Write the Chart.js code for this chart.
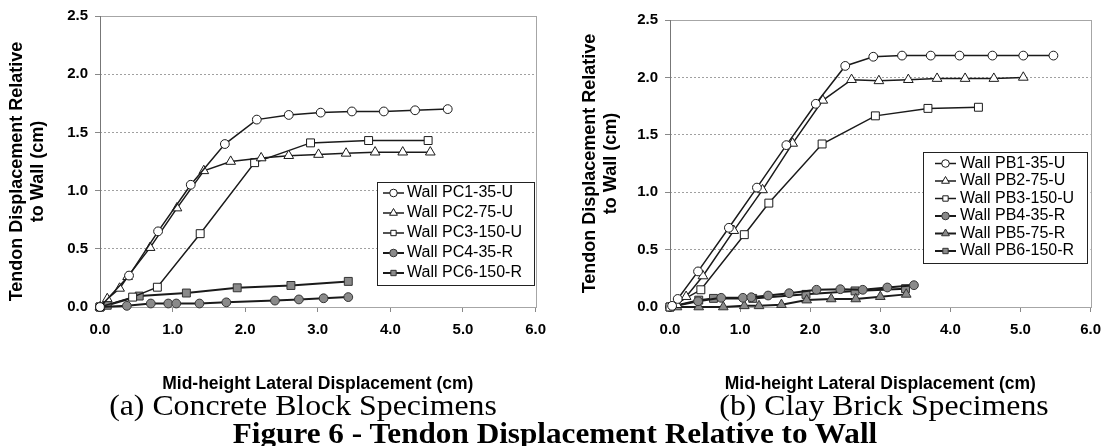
<!DOCTYPE html>
<html>
<head>
<meta charset="utf-8">
<script src="https://cdn.jsdelivr.net/npm/chart.js@4.4.1/dist/chart.umd.min.js"></script>
<style>
  body { margin: 0; width: 1110px; height: 446px; background: #fff; position: relative; overflow: hidden; }
  .panel { position: absolute; top: 0; width: 555px; height: 395px; }
  .cap { position: absolute; font-family: 'Liberation Serif', 'Times New Roman', serif; color: #000; white-space: nowrap; line-height: 1; }
</style>
</head>
<body>
<div class="panel" style="left:0"><canvas id="chartA" width="555" height="395"></canvas></div>
<div class="panel" style="left:555px"><canvas id="chartB" width="555" height="395"></canvas></div>
<div class="cap" style="left:303px; top:390px; font-size:30px; transform:translateX(-50%) scaleX(1.06);">(a) Concrete Block Specimens</div>
<div class="cap" style="left:884px; top:390px; font-size:30px; transform:translateX(-50%) scaleX(1.06);">(b) Clay Brick Specimens</div>
<div class="cap" style="left:555px; top:418px; font-size:30px; font-weight:bold; transform:translateX(-50%) scaleX(1.04);">Figure 6 - Tendon Displacement Relative to Wall</div>
<script>
// axis ticks (shared by both panels)
const xTicks = [0, 1, 2, 3, 4, 5, 6];
const yTicks = [0, 0.5, 1.0, 1.5, 2.0, 2.5];

// (a) concrete block walls
const concreteLabels = ['Wall PC1-35-U', 'Wall PC2-75-U', 'Wall PC3-150-U', 'Wall PC4-35-R', 'Wall PC6-150-R'];
const pc1X = [0, 0.40, 0.80, 1.25, 1.72, 2.16, 2.60, 3.04, 3.47, 3.91, 4.34, 4.79];
const pc1Y = [0, 0.27, 0.65, 1.05, 1.40, 1.61, 1.65, 1.67, 1.68, 1.68, 1.69, 1.70];
const pc2X = [0, 0.10, 0.27, 0.38, 0.69, 1.06, 1.43, 1.80, 2.22, 2.60, 3.01, 3.39, 3.79, 4.17, 4.55];
const pc2Y = [0, 0.07, 0.16, 0.26, 0.51, 0.85, 1.17, 1.25, 1.28, 1.30, 1.31, 1.32, 1.33, 1.33, 1.33];
const pc3X = [0, 0.45, 0.79, 1.38, 2.13, 2.90, 3.70, 4.52];
const pc3Y = [0, 0.085, 0.17, 0.63, 1.24, 1.41, 1.43, 1.43];
const pc4X = [0, 0.37, 0.70, 0.94, 1.05, 1.37, 1.74, 2.41, 2.74, 3.08, 3.42];
const pc4Y = [0, 0.01, 0.03, 0.03, 0.03, 0.03, 0.04, 0.055, 0.065, 0.075, 0.085];
const pc6X = [0, 0.10, 0.54, 1.19, 1.89, 2.63, 3.42];
const pc6Y = [0, 0.015, 0.094, 0.12, 0.165, 0.185, 0.22];

// (b) clay brick walls
const clayLabels = ['Wall PB1-35-U', 'Wall PB2-75-U', 'Wall PB3-150-U', 'Wall PB4-35-R', 'Wall PB5-75-R', 'Wall PB6-150-R'];
const pb1X = [0.03, 0.11, 0.40, 0.84, 1.24, 1.66, 2.08, 2.50, 2.90, 3.31, 3.72, 4.13, 4.60, 5.04, 5.47];
const pb1Y = [0.01, 0.07, 0.31, 0.69, 1.04, 1.41, 1.77, 2.10, 2.18, 2.19, 2.19, 2.19, 2.19, 2.19, 2.19];
const pb2X = [0.10, 0.23, 0.47, 0.91, 1.32, 1.75, 2.18, 2.59, 2.98, 3.40, 3.81, 4.21, 4.62, 5.04];
const pb2Y = [0.02, 0.09, 0.27, 0.665, 1.02, 1.425, 1.80, 1.98, 1.97, 1.98, 1.99, 1.99, 1.99, 2.00];
const pb3X = [0, 0.44, 1.06, 1.41, 2.17, 2.93, 3.68, 4.40];
const pb3Y = [0, 0.15, 0.63, 0.905, 1.42, 1.665, 1.73, 1.74];
const pb4X = [0, 0.40, 0.73, 1.04, 1.16, 1.40, 1.70, 2.09, 2.43, 2.75, 3.10, 3.48];
const pb4Y = [0, 0.05, 0.08, 0.08, 0.085, 0.10, 0.12, 0.15, 0.155, 0.15, 0.17, 0.19];
const pb5X = [0.10, 0.41, 0.76, 1.06, 1.27, 1.59, 1.95, 2.30, 2.65, 3.00, 3.37];
const pb5Y = [0, 0, 0, 0.01, 0.01, 0.02, 0.06, 0.07, 0.07, 0.09, 0.11];
const pb6X = [0, 0.41, 0.62, 1.18, 1.94, 2.64, 3.36];
const pb6Y = [0, 0.06, 0.075, 0.075, 0.11, 0.14, 0.16];

const yTitle = ['Tendon Displacement Relative', 'to Wall (cm)'];

const LINE = '#1a1a1a';
const GREY = '#8a8a8a';

function pts(xs, ys) {
  return xs.map((x, i) => ({ x: x, y: ys[i] }));
}

function series(label, xs, ys, shape, filled) {
  return {
    label: label,
    data: pts(xs, ys),
    borderColor: LINE,
    borderWidth: filled ? 2 : 1.5,
    pointStyle: shape,
    pointRadius: shape === 'circle' ? 4.4 : 5.6,
    pointBackgroundColor: filled ? GREY : '#fff',
    pointBorderColor: filled ? '#333' : LINE,
    pointBorderWidth: 1,
    tension: 0,
    clip: false
  };
}

// small marker painter for the legend box
function marker(ctx, style, x, y, r) {
  ctx.beginPath();
  if (style === 'circle') {
    ctx.arc(x, y, r, 0, Math.PI * 2);
  } else if (style === 'rect') {
    const s = r * Math.SQRT1_2;
    ctx.rect(x - s, y - s, 2 * s, 2 * s);
  } else {
    const w = r * Math.sqrt(3) / 2;
    ctx.moveTo(x, y - r);
    ctx.lineTo(x + w, y + r / 2);
    ctx.lineTo(x - w, y + r / 2);
    ctx.closePath();
  }
  ctx.fill();
  ctx.stroke();
}

const boxLegend = {
  id: 'boxLegend',
  afterDatasetsDraw(chart, args, o) {
    const ctx = chart.ctx;
    ctx.save();
    ctx.fillStyle = '#fff';
    ctx.fillRect(o.x, o.y, o.w, o.h);
    ctx.strokeStyle = '#222';
    ctx.lineWidth = 1;
    ctx.strokeRect(o.x + 0.5, o.y + 0.5, o.w, o.h);
    ctx.font = o.font;
    ctx.textBaseline = 'middle';
    chart.data.datasets.forEach((ds, i) => {
      const cy = o.y + o.first + i * o.rowH;
      const x0 = o.x + o.symX;
      ctx.strokeStyle = ds.borderColor;
      ctx.lineWidth = ds.borderWidth;
      ctx.beginPath();
      ctx.moveTo(x0, cy);
      ctx.lineTo(x0 + o.symW, cy);
      ctx.stroke();
      ctx.lineWidth = 1;
      ctx.fillStyle = ds.pointBackgroundColor;
      ctx.strokeStyle = ds.pointBorderColor;
      marker(ctx, ds.pointStyle, x0 + o.symW / 2, cy, ds.pointStyle === 'triangle' ? 4.5 : 3.8);
      ctx.fillStyle = '#000';
      ctx.fillText(ds.label, o.x + o.textX, cy);
    });
    ctx.restore();
  }
};

// plot frame: light grey box, darker left axis
const frame = {
  id: 'frame',
  beforeDatasetsDraw(chart) {
    const { ctx, chartArea: a } = chart;
    ctx.save();
    ctx.lineWidth = 1;
    ctx.strokeStyle = '#a6a6a6';
    ctx.strokeRect(Math.round(a.left) + 0.5, Math.round(a.top) + 0.5, Math.round(a.right - a.left), Math.round(a.bottom - a.top));
    ctx.strokeStyle = '#777';
    ctx.beginPath();
    ctx.moveTo(Math.round(a.left) + 0.5, a.top);
    ctx.lineTo(Math.round(a.left) + 0.5, a.bottom + 1);
    ctx.stroke();
    ctx.restore();
  }
};

Chart.defaults.font.family = "'Liberation Sans', Arial, sans-serif";
Chart.defaults.color = '#000';

function makeChart(id, datasets, pad, yWidth, titleText, legendBox) {
  return new Chart(document.getElementById(id), {
    type: 'line',
    data: { datasets: datasets },
    options: {
      responsive: false,
      animation: false,
      layout: { padding: pad },
      plugins: {
        legend: { display: false },
        tooltip: { enabled: false },
        boxLegend: legendBox
      },
      scales: {
        x: {
          type: 'linear',
          min: xTicks[0],
          max: xTicks[xTicks.length - 1],
          afterBuildTicks: s => { s.ticks = xTicks.map(v => ({ value: v })); },
          afterFit: s => { s.height = 88; },
          border: { display: false },
          grid: { drawOnChartArea: false, drawTicks: true, tickLength: 5, color: '#888' },
          ticks: { padding: 9, font: { size: 15, weight: 'bold' }, callback: v => v.toFixed(1) },
          title: {
            display: true,
            text: 'Mid-height Lateral Displacement (cm)',
            font: { size: 17.5, weight: 'bold' },
            padding: { top: 0, bottom: 0 }
          }
        },
        y: {
          type: 'linear',
          min: yTicks[0],
          max: yTicks[yTicks.length - 1],
          afterBuildTicks: s => { s.ticks = yTicks.map(v => ({ value: v })); },
          afterFit: s => { s.width = yWidth; },
          border: { display: false, dash: [2, 2] },
          grid: { color: '#a0a0a0', tickColor: '#888', tickLength: 5, tickBorderDash: [] },
          ticks: { padding: 7, font: { size: 15, weight: 'bold' }, callback: v => v.toFixed(1) },
          title: {
            display: true,
            text: titleText,
            font: { size: 18, weight: 'bold', lineHeight: 1.2 },
            padding: { top: 6, bottom: 0 }
          }
        }
      }
    },
    plugins: [frame, boxLegend]
  });
}

// left panel title sits a little lower in the original, trailing spaces nudge it down
makeChart('chartA', [
  series(concreteLabels[0], pc1X, pc1Y, 'circle', false),
  series(concreteLabels[1], pc2X, pc2Y, 'triangle', false),
  series(concreteLabels[2], pc3X, pc3Y, 'rect', false),
  series(concreteLabels[3], pc4X, pc4Y, 'circle', true),
  series(concreteLabels[4], pc6X, pc6Y, 'rect', true)
], { top: 15, right: 16, left: 0, bottom: 0 }, 100, yTitle.map(t => t + '    '),
  { x: 377, y: 182, w: 157, h: 103, first: 11, rowH: 20, symX: 6, symW: 21, textX: 30, font: "16px 'Liberation Sans', Arial, sans-serif" });

makeChart('chartB', [
  series(clayLabels[0], pb1X, pb1Y, 'circle', false),
  series(clayLabels[1], pb2X, pb2Y, 'triangle', false),
  series(clayLabels[2], pb3X, pb3Y, 'rect', false),
  series(clayLabels[3], pb4X, pb4Y, 'circle', true),
  series(clayLabels[4], pb5X, pb5Y, 'triangle', true),
  series(clayLabels[5], pb6X, pb6Y, 'rect', true)
], { top: 20, right: 12, left: 18, bottom: 0 }, 97, yTitle,
  { x: 368, y: 152, w: 164, h: 111, first: 11.5, rowH: 17.5, symX: 12, symW: 21, textX: 37, font: "16px 'Liberation Sans', Arial, sans-serif" });
</script>
</body>
</html>
